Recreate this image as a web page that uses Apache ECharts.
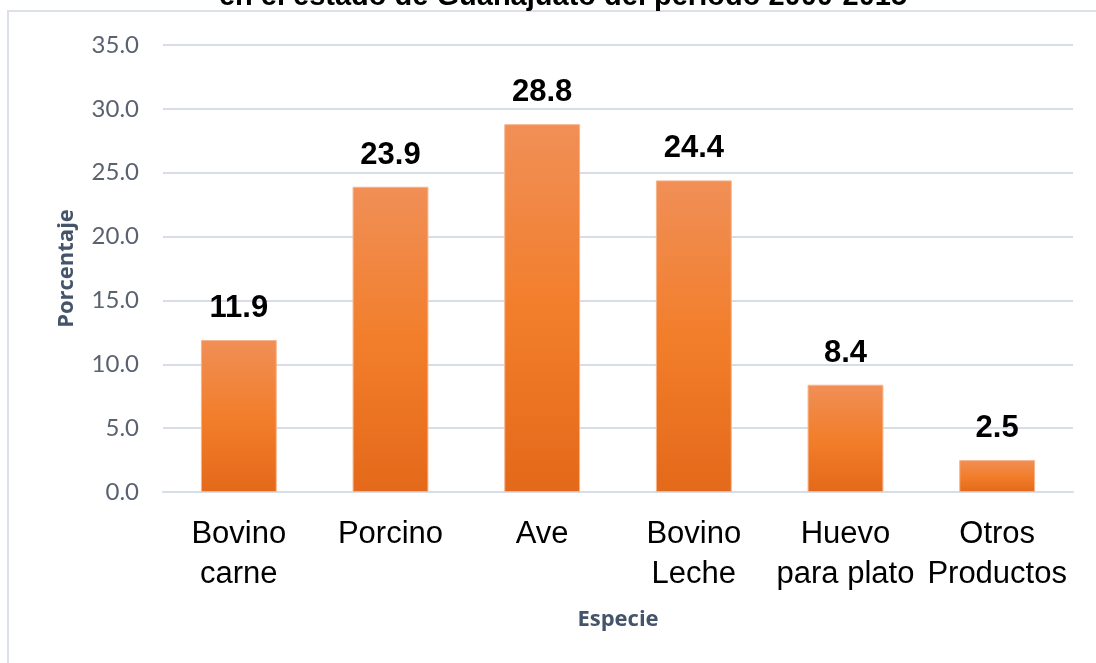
<!DOCTYPE html>
<html>
<head>
<meta charset="utf-8">
<script src="https://cdn.jsdelivr.net/npm/echarts@6/dist/echarts.min.js"></script>
<style>html,body{margin:0;padding:0;background:#fff;}#c{width:1096px;height:663px;}</style>
</head>
<body>
<div id="c"></div>
<script>
const categories = ['Bovino\ncarne', 'Porcino', 'Ave', 'Bovino\nLeche', 'Huevo\npara plato', 'Otros\nProductos'];
const values = [11.9, 23.9, 28.8, 24.4, 8.4, 2.5];
const titleText = 'en el estado de Guanajuato del periodo 2000-2015';
const yAxisName = 'Porcentaje';
const xAxisName = 'Especie';

const chart = echarts.init(document.getElementById('c'), null, {renderer: 'canvas'});
chart.setOption({
  animation: false,
  backgroundColor: '#fff',
  title: {
    text: titleText,
    left: 558,
    textAlign: 'center',
    top: -23,
    textStyle: {fontFamily: 'Liberation Sans, Arial', fontWeight: 'bold', fontSize: 29, color: '#000'}
  },
  graphic: [{
    type: 'rect',
    shape: {x: 8, y: 11, width: 1200, height: 800},
    style: {fill: 'none', stroke: '#DCE1E9', lineWidth: 2},
    silent: true
  }],
  grid: {left: 163, right: 23, top: 45, bottom: 171},
  xAxis: {
    type: 'category',
    data: categories,
    name: xAxisName,
    nameLocation: 'middle',
    nameGap: 117,
    nameTextStyle: {fontFamily: 'Open Sans, Lato', fontWeight: 'bold', fontSize: 22, color: '#44546A'},
    axisLine: {show: true, lineStyle: {color: '#D9DEE6', width: 2}},
    axisTick: {show: false},
    axisLabel: {
      interval: 0,
      margin: 22,
      fontFamily: 'Liberation Sans, Arial',
      fontSize: 31,
      lineHeight: 40,
      color: '#000'
    }
  },
  yAxis: {
    type: 'value',
    min: 0,
    max: 35,
    interval: 5,
    name: yAxisName,
    nameLocation: 'middle',
    nameGap: 85,
    nameRotate: 90,
    nameTextStyle: {fontFamily: 'Open Sans, Lato', fontWeight: 'bold', fontSize: 22, color: '#44546A'},
    axisLine: {show: false},
    axisTick: {show: false},
    axisLabel: {
      margin: 24,
      fontFamily: 'Lato, Open Sans',
      fontSize: 24,
      color: '#5A6270',
      formatter: v => v.toFixed(1)
    },
    splitLine: {lineStyle: {color: '#D9DEE6', width: 2}}
  },
  series: [{
    type: 'bar',
    data: values,
    barWidth: '50%',
    itemStyle: {
      color: new echarts.graphic.LinearGradient(0, 0, 0, 1, [
        {offset: 0, color: '#F08F57'},
        {offset: 0.5, color: '#F27E2B'},
        {offset: 1, color: '#E4691A'}
      ]),
      borderColor: '#F6B48A',
      borderWidth: 1
    },
    label: {
      show: true,
      position: 'top',
      distance: 16,
      fontFamily: 'Liberation Sans, Arial',
      fontWeight: 'bold',
      fontSize: 31,
      color: '#000',
      formatter: p => p.value.toFixed(1)
    }
  }]
});
</script>
</body>
</html>
